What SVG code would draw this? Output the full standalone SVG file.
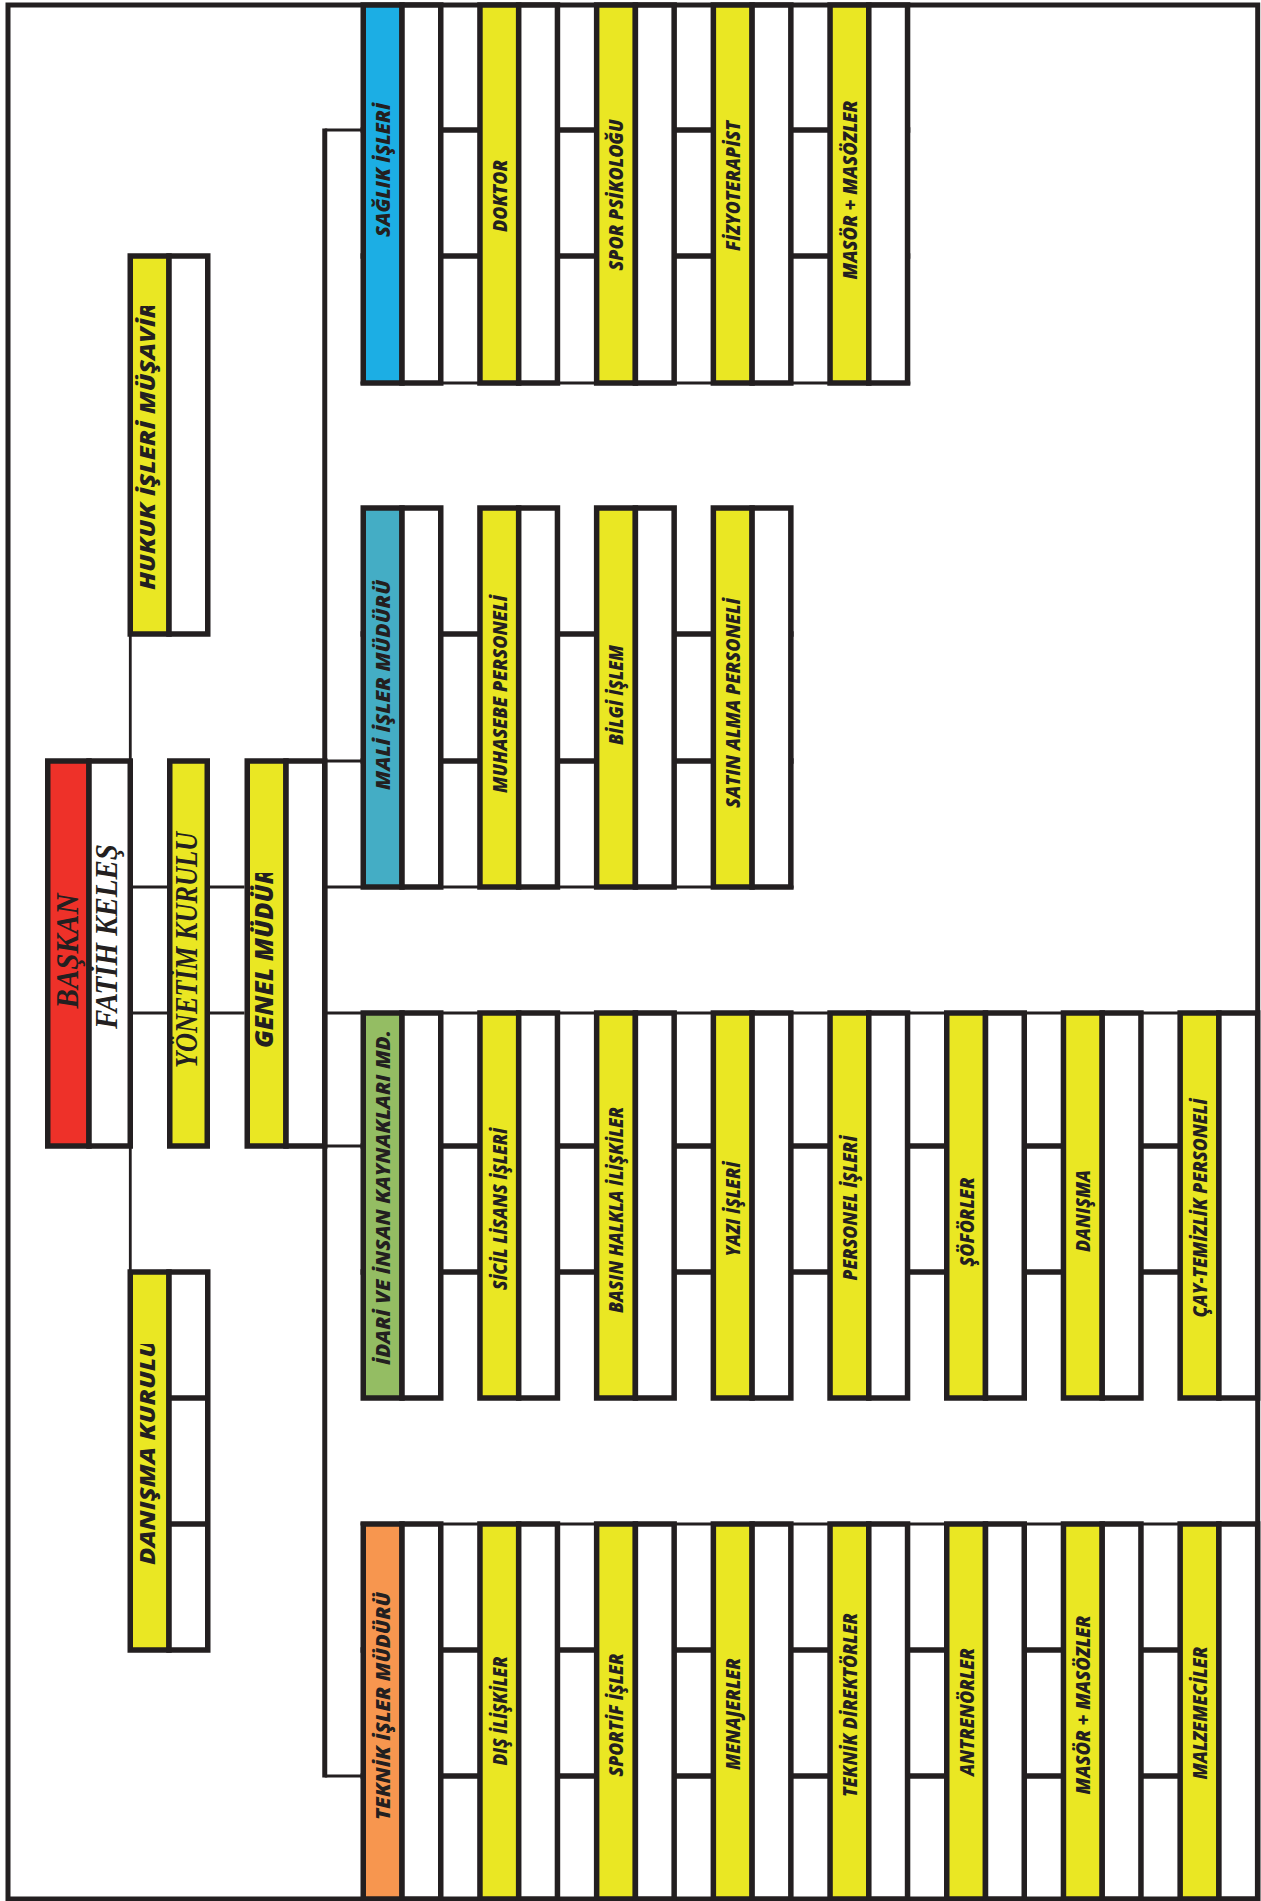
<svg xmlns="http://www.w3.org/2000/svg" width="1261" height="1901" viewBox="0 0 1261 1901">
<style>
.bx{stroke:#231F20;stroke-width:5.5;stroke-linejoin:miter}
.w{fill:#FFFFFF}
.y{fill:#EAE723}
.r{fill:#EE3129}
.bl{fill:#1CAEE4}
.tl{fill:#44ADC5}
.gr{fill:#94BD63}
.or{fill:#F7964F}
.thick{stroke:#231F20;stroke-width:5.5;fill:none}
.thin{stroke:#231F20;stroke-width:2.8;fill:none}
.trunk{stroke:#231F20;stroke-width:5;fill:none}
.t{font-family:"Open Sans","Noto Sans","DejaVu Sans",sans-serif;font-weight:800;font-style:italic;font-size:19.5px;fill:#231F20;text-anchor:middle}
.ts{font-family:"Open Sans","Noto Sans","DejaVu Sans",sans-serif;font-weight:800;font-style:italic;fill:#231F20;text-anchor:start}
.s{font-family:"Liberation Serif","DejaVu Serif",serif;font-weight:700;font-style:italic;font-size:32.5px;fill:#231F20;text-anchor:middle}
</style>
<defs>
<clipPath id="cGenel"><rect x="240" y="873" width="100" height="300"/></clipPath>
<clipPath id="cHukuk"><rect x="120" y="306" width="100" height="330"/></clipPath>
<clipPath id="cDanisma"><rect x="120" y="1344" width="100" height="310"/></clipPath>
</defs>
<rect x="0" y="0" width="1261" height="1901" fill="#FFFFFF"/>
<rect id="frame" x="8" y="5" width="1249.7" height="1894" fill="none" stroke="#231F20" stroke-width="5"/>

<g id="connectors">
<line class="trunk" x1="324.75" y1="128.6" x2="324.75" y2="1777.4"/>
<line class="thin" x1="130.3" y1="634" x2="130.3" y2="1272"/>
<line class="thin" x1="130.3" y1="887" x2="244.5" y2="887"/>
<line class="thin" x1="130.3" y1="1013" x2="244.5" y2="1013"/>
<line class="thin" x1="324.75" y1="130" x2="362" y2="130"/>
<line class="thin" x1="324.75" y1="761" x2="362" y2="761"/>
<line class="thin" x1="324.75" y1="887" x2="793.6" y2="887"/>
<line class="thin" x1="324.75" y1="1013" x2="1257.7" y2="1013"/>
<line class="thin" x1="324.75" y1="1146" x2="362" y2="1146"/>
<line class="thin" x1="324.75" y1="1776" x2="362" y2="1776"/>
<line class="thick" x1="360.5" y1="130" x2="910.3" y2="130"/>
<line class="thick" x1="360.5" y1="256" x2="910.3" y2="256"/>
<line class="thin" x1="360.5" y1="383" x2="910.3" y2="383"/>
<line class="thick" x1="360.5" y1="634" x2="793.6" y2="634"/>
<line class="thick" x1="360.5" y1="761" x2="793.6" y2="761"/>
<line class="thick" x1="360.5" y1="1146" x2="1257.7" y2="1146"/>
<line class="thick" x1="360.5" y1="1272" x2="1257.7" y2="1272"/>
<line class="thin" x1="360.5" y1="1524" x2="1257.7" y2="1524"/>
<line class="thick" x1="360.5" y1="1650" x2="1257.7" y2="1650"/>
<line class="thick" x1="360.5" y1="1776" x2="1257.7" y2="1776"/>
</g>

<g id="baskan">
<rect class="bx r" x="47.75" y="761" width="41.25" height="385"/>
<rect class="bx w" x="89" y="761" width="41.25" height="385"/>
<text class="s" transform="translate(78,951) rotate(-90)" textLength="115" lengthAdjust="spacingAndGlyphs">BAŞKAN</text>
<text class="s" transform="translate(117,936.5) rotate(-90)" textLength="185" lengthAdjust="spacingAndGlyphs">FATİH KELEŞ</text>
</g>

<g id="yonetim">
<rect class="bx y" x="169.75" y="761" width="37.5" height="385"/>
<text class="s" transform="translate(197,950) rotate(-90)" textLength="236" lengthAdjust="spacingAndGlyphs">YÖNETİM KURULU</text>
</g>

<g id="genel">
<rect class="bx y" x="247.25" y="761" width="38.75" height="385"/>
<rect class="bx w" x="286" y="761" width="38.75" height="385"/>
<g clip-path="url(#cGenel)">
<text class="ts" font-size="25" transform="translate(273,1048) rotate(-90)" textLength="180" lengthAdjust="spacingAndGlyphs">GENEL MÜDÜR</text>
</g>
</g>

<g id="hukuk">
<rect class="bx y" x="130.25" y="256" width="38.75" height="378"/>
<rect class="bx w" x="169" y="256" width="38.75" height="378"/>
<g clip-path="url(#cHukuk)">
<text class="ts" font-size="20.5" transform="translate(155,590) rotate(-90)" textLength="288" lengthAdjust="spacingAndGlyphs">HUKUK İŞLERİ MÜŞAVİR</text>
</g>
</g>

<g id="danisma-kurulu">
<rect class="bx y" x="130.25" y="1272" width="38.75" height="378"/>
<rect class="bx w" x="169" y="1272" width="38.75" height="378"/>
<line class="thick" x1="169" y1="1398" x2="207.75" y2="1398"/>
<line class="thick" x1="169" y1="1524" x2="207.75" y2="1524"/>
<g clip-path="url(#cDanisma)">
<text class="ts" font-size="20.5" transform="translate(155,1565) rotate(-90)" textLength="225" lengthAdjust="spacingAndGlyphs">DANIŞMA KURULU</text>
</g>
</g>

<!-- SAĞLIK row -->
<g id="saglik">
<rect class="bx bl" x="363.25" y="5" width="38.75" height="378"/>
<rect class="bx w" x="402" y="5" width="38.75" height="378"/>
<text class="t" transform="translate(390,170) rotate(-90)" textLength="134" lengthAdjust="spacingAndGlyphs">SAĞLIK İŞLERİ</text>
</g>
<g id="doktor">
<rect class="bx y" x="479.95" y="5" width="38.75" height="378"/>
<rect class="bx w" x="518.7" y="5" width="38.75" height="378"/>
<text class="t" transform="translate(506.7,196) rotate(-90)" textLength="72" lengthAdjust="spacingAndGlyphs">DOKTOR</text>
</g>
<g id="spor-psikologu">
<rect class="bx y" x="596.65" y="5" width="38.75" height="378"/>
<rect class="bx w" x="635.4" y="5" width="38.75" height="378"/>
<text class="t" transform="translate(623.4,195) rotate(-90)" textLength="151" lengthAdjust="spacingAndGlyphs">SPOR PSİKOLOĞU</text>
</g>
<g id="fizyoterapist">
<rect class="bx y" x="713.35" y="5" width="38.75" height="378"/>
<rect class="bx w" x="752.1" y="5" width="38.75" height="378"/>
<text class="t" transform="translate(740.1,186) rotate(-90)" textLength="130" lengthAdjust="spacingAndGlyphs">FİZYOTERAPİST</text>
</g>
<g id="masor-saglik">
<rect class="bx y" x="830.05" y="5" width="38.75" height="378"/>
<rect class="bx w" x="868.8" y="5" width="38.75" height="378"/>
<text class="t" transform="translate(856.8,190) rotate(-90)" textLength="179" lengthAdjust="spacingAndGlyphs">MASÖR + MASÖZLER</text>
</g>

<!-- MALİ row -->
<g id="mali">
<rect class="bx tl" x="363.25" y="508" width="38.75" height="379"/>
<rect class="bx w" x="402" y="508" width="38.75" height="379"/>
<text class="t" transform="translate(390,685) rotate(-90)" textLength="210" lengthAdjust="spacingAndGlyphs">MALİ İŞLER MÜDÜRÜ</text>
</g>
<g id="muhasebe">
<rect class="bx y" x="479.95" y="508" width="38.75" height="379"/>
<rect class="bx w" x="518.7" y="508" width="38.75" height="379"/>
<text class="t" transform="translate(506.7,694) rotate(-90)" textLength="198" lengthAdjust="spacingAndGlyphs">MUHASEBE PERSONELİ</text>
</g>
<g id="bilgi-islem">
<rect class="bx y" x="596.65" y="508" width="38.75" height="379"/>
<rect class="bx w" x="635.4" y="508" width="38.75" height="379"/>
<text class="t" transform="translate(623.4,695) rotate(-90)" textLength="100" lengthAdjust="spacingAndGlyphs">BİLGİ İŞLEM</text>
</g>
<g id="satin-alma">
<rect class="bx y" x="713.35" y="508" width="38.75" height="379"/>
<rect class="bx w" x="752.1" y="508" width="38.75" height="379"/>
<text class="t" transform="translate(740.1,703) rotate(-90)" textLength="210" lengthAdjust="spacingAndGlyphs">SATIN ALMA PERSONELİ</text>
</g>

<!-- İDARİ row -->
<g id="idari">
<rect class="bx gr" x="363.25" y="1013" width="38.75" height="385"/>
<rect class="bx w" x="402" y="1013" width="38.75" height="385"/>
<text class="t" transform="translate(390,1197.5) rotate(-90)" textLength="335" lengthAdjust="spacingAndGlyphs">İDARİ VE İNSAN KAYNAKLARI MD.</text>
</g>
<g id="sicil">
<rect class="bx y" x="479.95" y="1013" width="38.75" height="385"/>
<rect class="bx w" x="518.7" y="1013" width="38.75" height="385"/>
<text class="t" transform="translate(506.7,1209) rotate(-90)" textLength="162" lengthAdjust="spacingAndGlyphs">SİCİL LİSANS İŞLERİ</text>
</g>
<g id="basin">
<rect class="bx y" x="596.65" y="1013" width="38.75" height="385"/>
<rect class="bx w" x="635.4" y="1013" width="38.75" height="385"/>
<text class="t" transform="translate(623.4,1210) rotate(-90)" textLength="206" lengthAdjust="spacingAndGlyphs">BASIN HALKLA İLİŞKİLER</text>
</g>
<g id="yazi">
<rect class="bx y" x="713.35" y="1013" width="38.75" height="385"/>
<rect class="bx w" x="752.1" y="1013" width="38.75" height="385"/>
<text class="t" transform="translate(740.1,1209) rotate(-90)" textLength="95" lengthAdjust="spacingAndGlyphs">YAZI İŞLERİ</text>
</g>
<g id="personel">
<rect class="bx y" x="830.05" y="1013" width="38.75" height="385"/>
<rect class="bx w" x="868.8" y="1013" width="38.75" height="385"/>
<text class="t" transform="translate(856.8,1208) rotate(-90)" textLength="145" lengthAdjust="spacingAndGlyphs">PERSONEL İŞLERİ</text>
</g>
<g id="soforler">
<rect class="bx y" x="946.75" y="1013" width="38.75" height="385"/>
<rect class="bx w" x="985.5" y="1013" width="38.75" height="385"/>
<text class="t" transform="translate(973.5,1222) rotate(-90)" textLength="89" lengthAdjust="spacingAndGlyphs">ŞÖFÖRLER</text>
</g>
<g id="danisma">
<rect class="bx y" x="1063.45" y="1013" width="38.75" height="385"/>
<rect class="bx w" x="1102.2" y="1013" width="38.75" height="385"/>
<text class="t" transform="translate(1090.2,1211) rotate(-90)" textLength="82" lengthAdjust="spacingAndGlyphs">DANIŞMA</text>
</g>
<g id="cay">
<rect class="bx y" x="1180.15" y="1013" width="38.75" height="385"/>
<rect class="bx w" x="1218.9" y="1013" width="38.75" height="385"/>
<text class="t" transform="translate(1206.9,1208) rotate(-90)" textLength="219" lengthAdjust="spacingAndGlyphs">ÇAY-TEMİZLİK PERSONELİ</text>
</g>

<!-- TEKNİK row -->
<g id="teknik">
<rect class="bx or" x="363.25" y="1524" width="38.75" height="375"/>
<rect class="bx w" x="402" y="1524" width="38.75" height="375"/>
<text class="t" transform="translate(390,1706) rotate(-90)" textLength="228" lengthAdjust="spacingAndGlyphs">TEKNİK İŞLER MÜDÜRÜ</text>
</g>
<g id="dis-iliskiler">
<rect class="bx y" x="479.95" y="1524" width="38.75" height="375"/>
<rect class="bx w" x="518.7" y="1524" width="38.75" height="375"/>
<text class="t" transform="translate(506.7,1711) rotate(-90)" textLength="109" lengthAdjust="spacingAndGlyphs">DIŞ İLİŞKİLER</text>
</g>
<g id="sportif">
<rect class="bx y" x="596.65" y="1524" width="38.75" height="375"/>
<rect class="bx w" x="635.4" y="1524" width="38.75" height="375"/>
<text class="t" transform="translate(623.4,1715) rotate(-90)" textLength="123" lengthAdjust="spacingAndGlyphs">SPORTİF İŞLER</text>
</g>
<g id="menajerler">
<rect class="bx y" x="713.35" y="1524" width="38.75" height="375"/>
<rect class="bx w" x="752.1" y="1524" width="38.75" height="375"/>
<text class="t" transform="translate(740.1,1714) rotate(-90)" textLength="112" lengthAdjust="spacingAndGlyphs">MENAJERLER</text>
</g>
<g id="teknik-direktorler">
<rect class="bx y" x="830.05" y="1524" width="38.75" height="375"/>
<rect class="bx w" x="868.8" y="1524" width="38.75" height="375"/>
<text class="t" transform="translate(856.8,1705) rotate(-90)" textLength="184" lengthAdjust="spacingAndGlyphs">TEKNİK DİREKTÖRLER</text>
</g>
<g id="antrenorler">
<rect class="bx y" x="946.75" y="1524" width="38.75" height="375"/>
<rect class="bx w" x="985.5" y="1524" width="38.75" height="375"/>
<text class="t" transform="translate(973.5,1712) rotate(-90)" textLength="128" lengthAdjust="spacingAndGlyphs">ANTRENÖRLER</text>
</g>
<g id="masor-teknik">
<rect class="bx y" x="1063.45" y="1524" width="38.75" height="375"/>
<rect class="bx w" x="1102.2" y="1524" width="38.75" height="375"/>
<text class="t" transform="translate(1090.2,1705) rotate(-90)" textLength="179" lengthAdjust="spacingAndGlyphs">MASÖR + MASÖZLER</text>
</g>
<g id="malzemeciler">
<rect class="bx y" x="1180.15" y="1524" width="38.75" height="375"/>
<rect class="bx w" x="1218.9" y="1524" width="38.75" height="375"/>
<text class="t" transform="translate(1206.9,1713) rotate(-90)" textLength="133" lengthAdjust="spacingAndGlyphs">MALZEMECİLER</text>
</g>
</svg>
